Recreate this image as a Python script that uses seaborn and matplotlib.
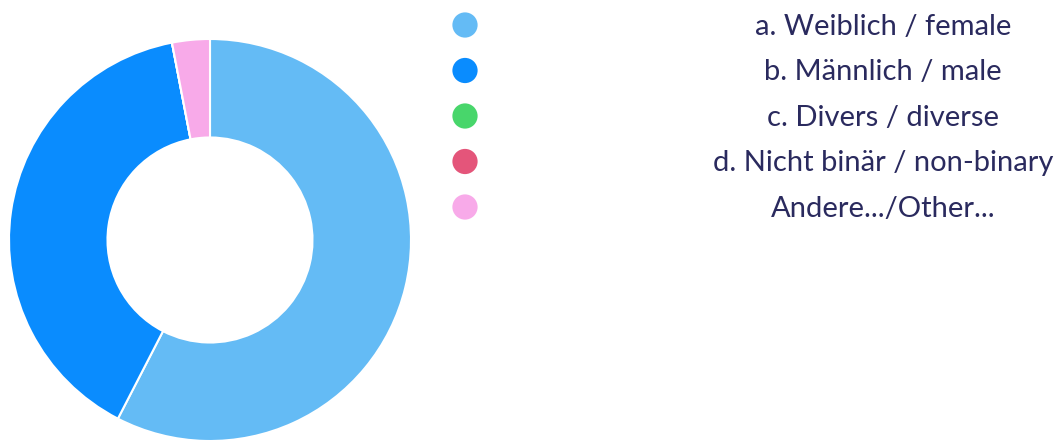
import pandas as pd
import seaborn as sns
import matplotlib.pyplot as plt

# Antworten / answers
kategorien = ['a. Weiblich / female', 'b. Männlich / male', 'c. Divers / diverse',
              'd. Nicht binär / non-binary', 'Andere.../Other...']
anzahl = [19, 13, 0, 0, 1]
farben = ['#64BBF5', '#0A8CFE', '#48D66B', '#E4557A', '#F8AAE9']

sns.set_theme(style='white')
plt.rcParams['font.family'] = ['Lato', 'DejaVu Sans']

fig = plt.figure(figsize=(10.6, 4.4), dpi=100)
fig.patch.set_facecolor('white')

# Donut
ax = fig.add_axes([9 / 1060, -1 / 440, 402 / 1060, 402 / 440])
wedges, _ = ax.pie(anzahl, colors=farben, startangle=90, counterclock=False,
                   radius=1.0,
                   wedgeprops=dict(width=0.49, edgecolor='white', linewidth=1.5))
for w in wedges:
    w.set_clip_on(False)
ax.set_xlim(-1, 1)
ax.set_ylim(-1, 1)
ax.set_aspect('equal')
ax.axis('off')

# Legende
df = pd.DataFrame({'kategorie': kategorien, 'pos': range(len(kategorien))})
df['x'] = 25
lax = fig.add_axes([440 / 1060, 210 / 440, 620 / 1060, 230 / 440])
sns.scatterplot(data=df, x='x', y='pos', hue='kategorie', palette=farben,
                s=330, linewidth=0, legend=False, ax=lax)
lax.set_xlim(0, 620)
lax.set_ylim((230 - 25) / 45.5, -25 / 45.5)
for _, row in df.iterrows():
    lax.text(443, row['pos'] + 0.04, row['kategorie'], ha='center', va='center',
             fontsize=21, color='#2A2A5E')
lax.axis('off')

fig.savefig('out.png', dpi=100, facecolor='white')
